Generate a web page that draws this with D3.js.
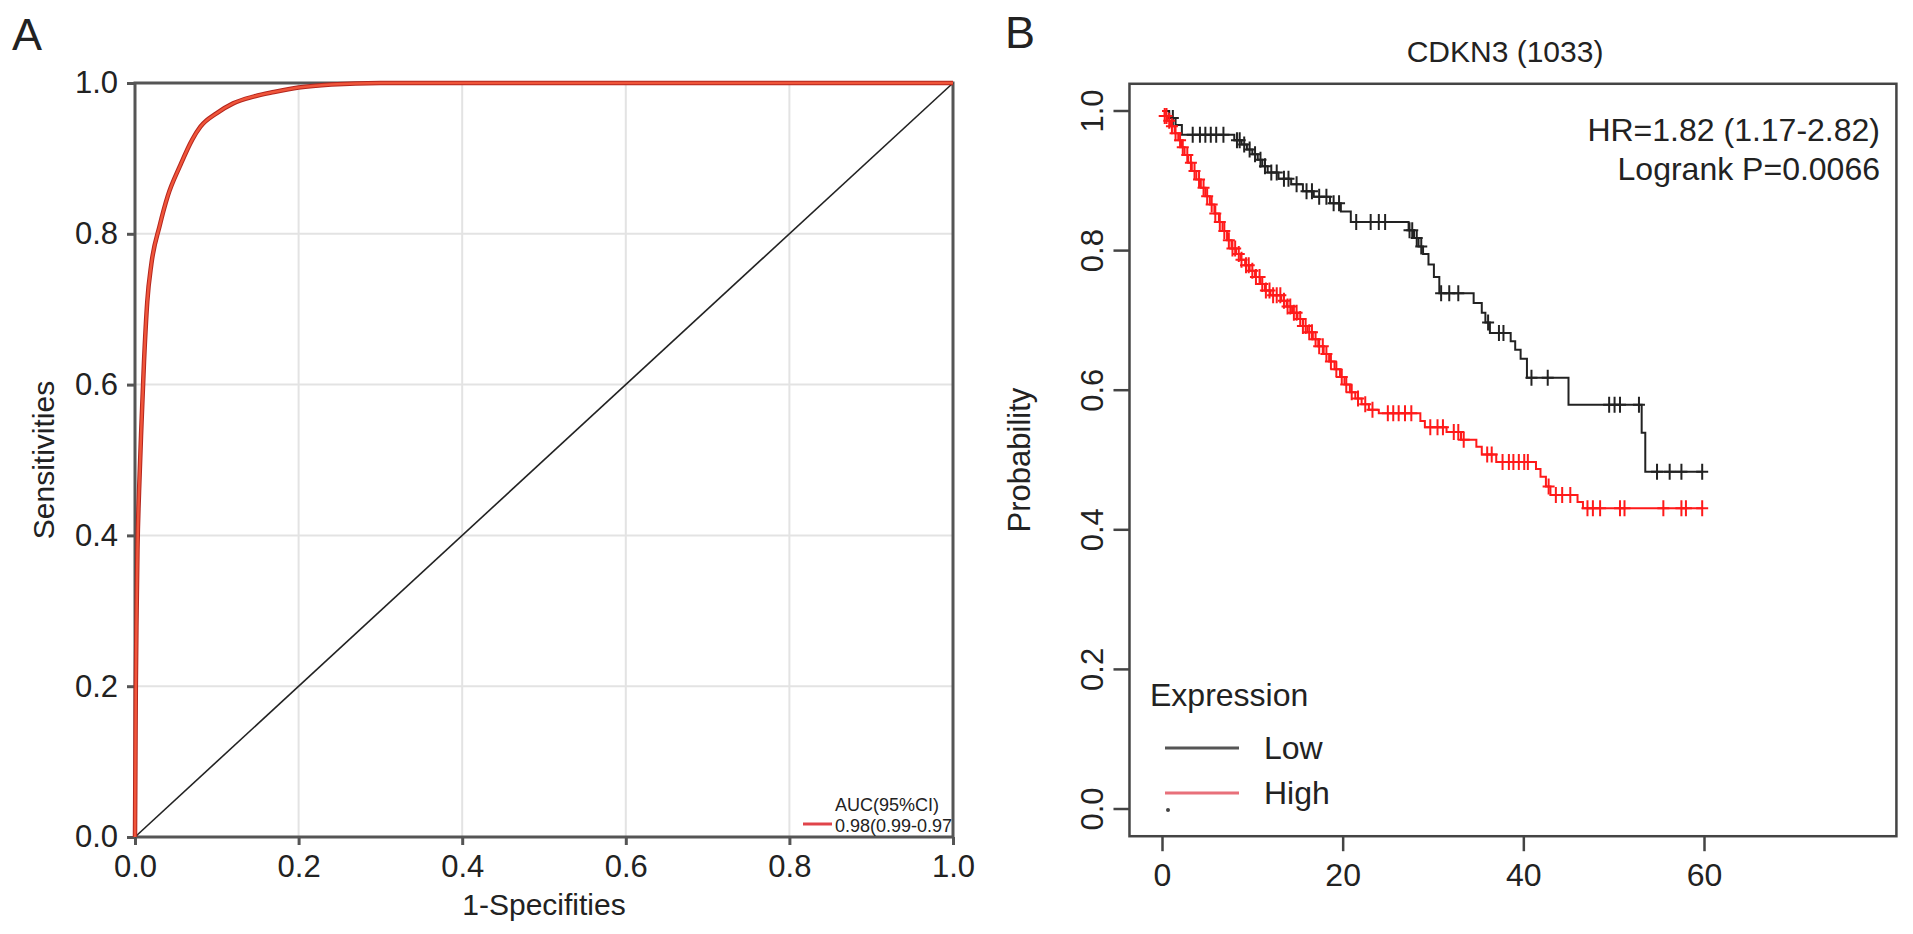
<!DOCTYPE html>
<html>
<head>
<meta charset="utf-8">
<script src="https://cdn.jsdelivr.net/npm/d3@7"></script>
<style>
  body { margin: 0; background: #fff; }
  text { font-family: "Liberation Sans", Arial, sans-serif; fill: #222; }
</style>
</head>
<body>
<div id="chart-area"></div>
<script>
/*
*    ROC curve (A) + Kaplan-Meier plot (B)
*/

var width = 1913;
var height = 934;

// ---- panel A data ----
var rocFpr = [0, 0.0005, 0.001, 0.002, 0.003, 0.005, 0.008, 0.011, 0.015, 0.02, 0.03, 0.04, 0.055, 0.07, 0.08, 0.1, 0.12, 0.145, 0.17, 0.2, 0.24, 0.3, 0.5, 1];
var rocTpr = [0, 0.1, 0.2, 0.3, 0.38, 0.46, 0.55, 0.63, 0.71, 0.76, 0.81, 0.85, 0.89, 0.925, 0.942, 0.96, 0.973, 0.982, 0.988, 0.994, 0.998, 1, 1, 1];
var rocTicks = [0, 0.2, 0.4, 0.6, 0.8, 1.0];
var aucLabel = "AUC(95%CI)";
var aucValue = "0.98(0.99-0.97";

// ---- panel B data (months, survival) ----
var lowTimes = [0, 0.8, 1.5, 2.2, 8.0, 8.8, 9.4, 10.0, 10.6, 11.1, 11.7, 12.9, 14.3, 15.6, 16.8, 18.6, 19.8, 20.9, 27.3, 27.9, 28.4, 28.9, 29.5, 30.1, 30.7, 34.5, 35.4, 35.8, 36.3, 38.6, 39.1, 39.7, 40.4, 45.0, 53.1, 53.5, 59.8];
var lowSurv  = [1.0, 0.99, 0.98, 0.966, 0.958, 0.952, 0.945, 0.938, 0.93, 0.921, 0.912, 0.903, 0.895, 0.885, 0.877, 0.868, 0.856, 0.841, 0.829, 0.818, 0.806, 0.795, 0.78, 0.762, 0.739, 0.725, 0.711, 0.697, 0.682, 0.67, 0.658, 0.645, 0.618, 0.579, 0.539, 0.483, 0.483];
var lowCensor = [1.2, 3.4, 4.2, 4.8, 5.4, 6.0, 6.8, 8.3, 8.6, 9.1, 9.7, 10.3, 10.9, 11.4, 12.1, 12.7, 13.5, 14.0, 14.9, 16.0, 16.6, 17.4, 18.2, 19.0, 19.6, 21.5, 23.1, 24.0, 24.7, 27.4, 27.7, 28.2, 28.7, 30.9, 31.8, 32.8, 36.1, 37.3, 37.8, 40.9, 42.7, 49.5, 50.1, 50.7, 52.8, 54.8, 56.2, 57.5, 59.8];

var highTimes = [0, 0.3, 0.6, 1.0, 1.4, 1.8, 2.2, 2.5, 2.9, 3.3, 3.8, 4.3, 4.8, 5.3, 5.8, 6.3, 6.7, 7.2, 7.7, 8.2, 8.7, 9.2, 9.7, 10.3, 10.9, 11.4, 12.0, 13.2, 13.8, 14.4, 15.0, 15.6, 16.1, 16.7, 17.3, 17.9, 18.5, 19.1, 19.7, 20.2, 20.8, 21.4, 22.1, 22.9, 24.0, 28.6, 29.1, 31.5, 33.1, 34.8, 35.4, 37.0, 41.4, 41.9, 42.5, 43.0, 46.0, 46.6, 59.8];
var highSurv  = [1.0, 0.993, 0.986, 0.978, 0.968, 0.958, 0.948, 0.937, 0.926, 0.914, 0.902, 0.89, 0.878, 0.866, 0.853, 0.841, 0.828, 0.815, 0.803, 0.795, 0.787, 0.779, 0.771, 0.762, 0.752, 0.743, 0.736, 0.728, 0.72, 0.711, 0.702, 0.692, 0.683, 0.673, 0.663, 0.652, 0.641, 0.63, 0.619, 0.608, 0.597, 0.588, 0.58, 0.572, 0.567, 0.556, 0.547, 0.54, 0.529, 0.519, 0.508, 0.497, 0.487, 0.476, 0.462, 0.45, 0.44, 0.431, 0.431];
var highCensor = [0.3, 0.5, 0.8, 1.1, 1.5, 2.0, 2.3, 2.8, 3.2, 3.6, 4.1, 4.6, 5.0, 5.5, 5.9, 6.4, 6.9, 7.4, 7.8, 8.1, 8.5, 8.8, 9.3, 9.6, 10.0, 10.4, 10.8, 11.1, 11.5, 11.9, 12.3, 12.7, 13.1, 13.5, 13.9, 14.2, 14.6, 14.9, 15.3, 15.6, 15.9, 16.3, 16.6, 17.0, 17.4, 17.8, 18.2, 18.7, 19.3, 19.9, 20.4, 21.0, 21.7, 22.5, 23.3, 25.0, 25.6, 26.2, 26.9, 27.6, 29.7, 30.5, 31.1, 32.3, 32.8, 33.4, 36.0, 36.5, 37.7, 38.4, 38.9, 39.5, 40.1, 40.5, 42.8, 43.6, 44.3, 45.2, 47.1, 47.7, 48.5, 50.7, 51.2, 55.5, 57.5, 58.0, 59.8];

var kmXTicks = [0, 20, 40, 60];
var kmYTicks = [0, 0.2, 0.4, 0.6, 0.8, 1.0];
var kmTitle = "CDKN3 (1033)";
var kmStats = ["HR=1.82 (1.17-2.82)", "Logrank P=0.0066"];
var groups = ["Low", "High"];
var groupColors = ["#222222", "#ff1a1a"];
var legendColors = ["#555555", "#e8707a"];

var svg = d3.select("#chart-area")
    .append("svg")
    .attr("width", width)
    .attr("height", height);

// ================= panel A =================
var gA = svg.append("g");

var xA = d3.scaleLinear().domain([0, 1]).range([135, 953]);
var yA = d3.scaleLinear().domain([0, 1]).range([837, 83]);

// grid
gA.selectAll(".vgrid").data(rocTicks.slice(1, 5)).enter()
    .append("line")
    .attr("x1", (d) => xA(d)).attr("x2", (d) => xA(d))
    .attr("y1", yA(0)).attr("y2", yA(1))
    .attr("stroke", "#e3e3e3").attr("stroke-width", 2);
gA.selectAll(".hgrid").data(rocTicks.slice(1, 5)).enter()
    .append("line")
    .attr("x1", xA(0)).attr("x2", xA(1))
    .attr("y1", (d) => yA(d)).attr("y2", (d) => yA(d))
    .attr("stroke", "#e3e3e3").attr("stroke-width", 2);

// frame
gA.append("rect")
    .attr("x", xA(0)).attr("y", yA(1))
    .attr("width", xA(1) - xA(0)).attr("height", yA(0) - yA(1))
    .attr("fill", "none").attr("stroke", "#555").attr("stroke-width", 3);

var xAxisA = gA.append("g")
    .attr("transform", "translate(0, " + yA(0) + ")")
    .call(d3.axisBottom(xA).tickValues(rocTicks).tickFormat(d3.format(".1f")).tickSize(8).tickPadding(10));
var yAxisA = gA.append("g")
    .attr("transform", "translate(" + xA(0) + ", 0)")
    .call(d3.axisLeft(yA).tickValues(rocTicks).tickFormat(d3.format(".1f")).tickSize(8).tickPadding(9));
[xAxisA, yAxisA].forEach((ax) => {
    ax.select(".domain").remove();
    ax.selectAll("line").attr("stroke", "#555").attr("stroke-width", 3);
    ax.selectAll("text").attr("font-size", "31px").attr("fill", "#222")
        .style("font-family", "'Liberation Sans', Arial, sans-serif");
});

// diagonal
gA.append("line")
    .attr("x1", xA(0)).attr("y1", yA(0))
    .attr("x2", xA(1)).attr("y2", yA(1))
    .attr("stroke", "#222").attr("stroke-width", 1.6);

// roc curve
var roc = rocFpr.map((d, i) => [d, rocTpr[i]]);
var rocLine = d3.line()
    .x((d) => xA(d[0]))
    .y((d) => yA(d[1]))
    .curve(d3.curveMonotoneX);
gA.append("path").datum(roc)
    .attr("d", rocLine)
    .attr("fill", "none").attr("stroke", "#b3261e").attr("stroke-width", 4.5);
gA.append("path").datum(roc)
    .attr("d", rocLine)
    .attr("fill", "none").attr("stroke", "#f0553a").attr("stroke-width", 2.5);

// legend A
gA.append("line")
    .attr("x1", 803).attr("x2", 832).attr("y1", 824).attr("y2", 824)
    .attr("stroke", "#e0444a").attr("stroke-width", 3);
gA.append("text").attr("x", 835).attr("y", 811)
    .attr("font-size", "18px").attr("fill", "#555").text(aucLabel);
gA.append("text").attr("x", 835).attr("y", 832)
    .attr("font-size", "18px").attr("fill", "#555").text(aucValue);

// labels A
svg.append("text").attr("x", 12).attr("y", 50).attr("font-size", "45px").text("A");
svg.append("text")
    .attr("transform", "translate(54, " + ((yA(0) + yA(1)) / 2) + ") rotate(-90)")
    .attr("text-anchor", "middle").attr("font-size", "30px")
    .text("Sensitivities");
svg.append("text")
    .attr("x", (xA(0) + xA(1)) / 2).attr("y", 915)
    .attr("text-anchor", "middle").attr("font-size", "30px")
    .text("1-Specifities");

// ================= panel B =================
var gB = svg.append("g");

var xB = d3.scaleLinear().domain([0, 60]).range([1162, 1704]);
var yB = d3.scaleLinear().domain([0, 1]).range([809, 111]);

gB.append("rect")
    .attr("x", xB(-3.6)).attr("y", yB(1.039))
    .attr("width", xB(81.3) - xB(-3.6)).attr("height", yB(-0.039) - yB(1.039))
    .attr("fill", "none").attr("stroke", "#444").attr("stroke-width", 2.5);

var xAxisB = gB.append("g")
    .attr("transform", "translate(0, " + yB(-0.039) + ")")
    .call(d3.axisBottom(xB).tickValues(kmXTicks).tickSize(15).tickPadding(12));
xAxisB.select(".domain").remove();
xAxisB.selectAll("line").attr("stroke", "#444").attr("stroke-width", 2.5);
xAxisB.selectAll("text").attr("font-size", "32px").attr("fill", "#222")
    .style("font-family", "'Liberation Sans', Arial, sans-serif");

// y axis (rotated labels, R style)
var yAxisB = gB.append("g");
yAxisB.selectAll("line").data(kmYTicks).enter()
    .append("line")
    .attr("x1", xB(-3.6) - 16).attr("x2", xB(-3.6))
    .attr("y1", (d) => yB(d)).attr("y2", (d) => yB(d))
    .attr("stroke", "#444").attr("stroke-width", 2.5);
yAxisB.selectAll("text").data(kmYTicks).enter()
    .append("text")
    .attr("transform", (d) => "translate(1103, " + yB(d) + ") rotate(-90)")
    .attr("text-anchor", "middle").attr("font-size", "31px")
    .text((d) => d3.format(".1f")(d));

// step curves
function stepAt(times, surv, t) {
    var i = d3.bisectRight(times, t) - 1;
    return surv[Math.max(0, i)];
}
var kmLine = d3.line()
    .x((d) => xB(d[0]))
    .y((d) => yB(d[1]))
    .curve(d3.curveStepAfter);

var series = [
    {name: groups[0], times: lowTimes, surv: lowSurv, censor: lowCensor, color: groupColors[0]},
    {name: groups[1], times: highTimes, surv: highSurv, censor: highCensor, color: groupColors[1]}
];

series.forEach((s) => {
    var pts = s.times.map((t, i) => [t, s.surv[i]]);
    gB.append("path").datum(pts)
        .attr("d", kmLine)
        .attr("fill", "none").attr("stroke", s.color).attr("stroke-width", 2);
    gB.selectAll(".c-" + s.name).data(s.censor).enter()
        .append("path")
        .attr("d", (t) => {
            var cx = xB(t), cy = yB(stepAt(s.times, s.surv, t));
            return "M" + (cx - 6) + "," + cy + "H" + (cx + 6) + "M" + cx + "," + (cy - 8) + "V" + (cy + 8);
        })
        .attr("stroke", s.color).attr("stroke-width", 2);
});

// stats text
gB.selectAll(".stat").data(kmStats).enter()
    .append("text")
    .attr("x", 1880).attr("y", (d, i) => 141 + i * 39)
    .attr("text-anchor", "end").attr("font-size", "32px")
    .text((d) => d);

// title
svg.append("text").attr("x", 1505).attr("y", 62)
    .attr("text-anchor", "middle").attr("font-size", "30px").text(kmTitle);
svg.append("text").attr("x", 1005).attr("y", 48).attr("font-size", "45px").text("B");
svg.append("text")
    .attr("transform", "translate(1030, " + ((yB(0) + yB(1)) / 2) + ") rotate(-90)")
    .attr("text-anchor", "middle").attr("font-size", "31px")
    .text("Probability");

// legend B
var legB = gB.append("g");
legB.append("text").attr("x", 1150).attr("y", 706).attr("font-size", "32px").text("Expression");
legB.selectAll("line").data(groups).enter()
    .append("line")
    .attr("x1", 1165).attr("x2", 1239)
    .attr("y1", (d, i) => 748 + i * 45).attr("y2", (d, i) => 748 + i * 45)
    .attr("stroke", (d, i) => legendColors[i]).attr("stroke-width", 3);
legB.selectAll(".lt").data(groups).enter()
    .append("text")
    .attr("x", 1264).attr("y", (d, i) => 759 + i * 45)
    .attr("font-size", "32px").text((d) => d);
legB.append("circle").attr("cx", 1168).attr("cy", 810).attr("r", 2).attr("fill", "#444");
</script>
</body>
</html>
